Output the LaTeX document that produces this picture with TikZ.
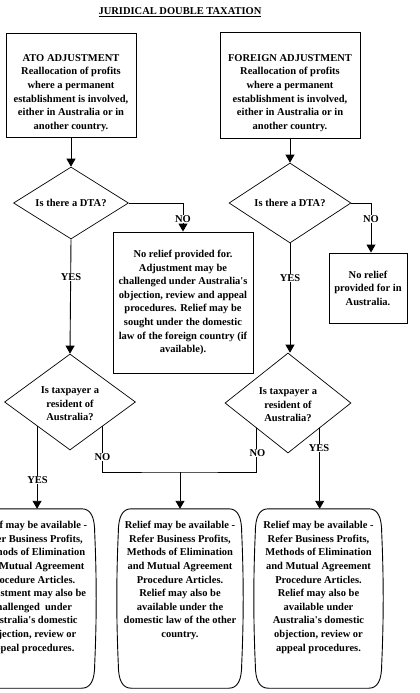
\documentclass[tikz,border=0pt]{standalone}
\usepackage{fontspec}
\setmainfont{Liberation Serif}[Ligatures=TeXOff]
\usetikzlibrary{shapes.geometric,arrows.meta}
\newcommand\scrollbox[1]{%
\draw[outl] ([xshift=13pt]#1.north west) -- ([xshift=-13pt]#1.north east)
 .. controls ([xshift=-4pt]#1.north east) and ([yshift=-8pt]#1.north east) .. ([yshift=-24pt]#1.north east)
 .. controls ([xshift=2pt,yshift=-70pt]#1.north east) and ([xshift=2pt,yshift=70pt]#1.south east) .. ([yshift=24pt]#1.south east)
 .. controls ([yshift=8pt]#1.south east) and ([xshift=-4pt]#1.south east) .. ([xshift=-13pt]#1.south east)
 -- ([xshift=13pt]#1.south west)
 .. controls ([xshift=4pt]#1.south west) and ([yshift=8pt]#1.south west) .. ([yshift=24pt]#1.south west)
 .. controls ([xshift=-2pt,yshift=70pt]#1.south west) and ([xshift=-2pt,yshift=-70pt]#1.north west) .. ([yshift=-24pt]#1.north west)
 .. controls ([yshift=-8pt]#1.north west) and ([xshift=4pt]#1.north west) .. cycle;}
\begin{document}
\begin{tikzpicture}[x=1pt,y=-1pt,
  every node/.style={font=\bfseries\fontsize{10.5}{13.6}\selectfont},
  box/.style={draw,line width=0.9pt,inner sep=0pt,align=center},
  txt/.style={align=center,inner sep=0pt},
  dec/.style={draw,diamond,line width=0.7pt,inner sep=0pt},
  lbl/.style={fill=white,inner sep=0.8pt},
  con/.style={line width=0.9pt},
  outl/.style={line width=0.9pt},
  arr/.style={con,-{Triangle[width=9pt,length=8pt]}},
  rbox/.style={inner sep=0pt}
]
\useasboundingbox (0,0) rectangle (420,693);
\node (title) at (180,12) {\underline{JURIDICAL DOUBLE TAXATION}};
% top boxes
\node[box,minimum width=130pt,minimum height=104pt] (ato) at (71,85) {};
\node[txt] (atot) at (71,93) {ATO ADJUSTMENT\\Reallocation of profits\\where a permanent\\establishment is involved,\\either in Australia or in\\another country.};
\node[box,minimum width=140pt,minimum height=106pt] (for) at (290,85) {};
\node[txt] (fort) at (290,93) {FOREIGN ADJUSTMENT\\Reallocation of profits\\where a permanent\\establishment is involved,\\either in Australia or in\\another country.};
% DTA diamonds
\node[dec,minimum width=115pt,minimum height=72pt] (d1) at (71,203) {};
\node[txt] (d1t) at (d1) {Is there a DTA?};
\node[dec,minimum width=122pt,minimum height=80pt] (d2) at (290,203) {};
\node[txt] (d2t) at (d2) {Is there a DTA?};
% no relief boxes
\node[box,minimum width=140pt,minimum height=141pt] (nr1) at (183,302.5) {No relief provided for.\\Adjustment may be\\challenged under Australia's\\objection, review and appeal\\procedures. Relief may be\\sought under the domestic\\law of the foreign country (if\\available).};
\node[box,minimum width=78pt,minimum height=70pt] (nr2) at (368,288) {No relief\\provided for in\\Australia.};
% residence diamonds
\node[dec,minimum width=131pt,minimum height=96pt] (d3) at (70,402) {};
\node[txt] (d3t) at (70,404) {Is taxpayer a\\resident of\\Australia?};
\node[dec,minimum width=126pt,minimum height=100pt] (d4) at (288,403) {};
\node[txt] (d4t) at (288,405) {Is taxpayer a\\resident of\\Australia?};
% bottom boxes
\node[rbox,minimum width=125pt,minimum height=179pt] (bl) at (32,598.5) {};
\scrollbox{bl}
\node[txt,anchor=north] (blt) at (32,521) {Relief may be available -\\Refer Business Profits,\\Methods of Elimination\\and Mutual Agreement\\Procedure Articles.\\Adjustment may also be\\challenged\ \ under\\Australia's domestic\\objection, review or\\appeal procedures.};
\node[rbox,minimum width=123pt,minimum height=179pt] (bm) at (180,598.5) {};
\scrollbox{bm}
\node[txt,anchor=north] (bmt) at (180,521) {Relief may be available -\\Refer Business Profits,\\Methods of Elimination\\and Mutual Agreement\\Procedure Articles.\\Relief may also be\\available under the\\domestic law of the other\\country.};
\node[rbox,minimum width=126pt,minimum height=179pt] (br) at (318.5,598.5) {};
\scrollbox{br}
\node[txt,anchor=north] (brt) at (318.5,521) {Relief may be available -\\Refer Business Profits,\\Methods of Elimination\\and Mutual Agreement\\Procedure Articles.\\Relief may also be\\available under\\Australia's domestic\\objection, review or\\appeal procedures.};
% connectors
\draw[arr] (ato.south) -- (d1.north);
\draw[arr] (for.south) -- (d2.north);
\draw[arr] (d1.east) -| (nr1.north);
\draw[arr] (d1.south) -- (d3.north);
\draw[arr] (d2.east) -| ([xshift=3pt]nr2.north);
\draw[arr] (d2.south) -- (d4.north -| d2.south);
\draw[arr] (d3.south west) -- (d3.south west |- bl.north);
\coordinate (j) at (180,472);
\draw[con] (d3.south east) |- (j) -| (d4.south west);
\draw[arr] (j) -- (bm.north);
\draw[arr] (d4.south east) -- (d4.south east |- br.north);
% labels
\node[lbl] (no1) at (183,219) {NO};
\node[lbl] (yes1) at (71,277) {YES};
\node[lbl] (no2) at (371,219) {NO};
\node[lbl] (yes2) at (290,278) {YES};
\node[lbl] (yes3) at (37.5,480) {YES};
\node[lbl] (no3) at (102.5,457) {NO};
\node[lbl] (no4) at (257.5,453) {NO};
\node[lbl] (yes4) at (319,448) {YES};
\end{tikzpicture}
\end{document}
